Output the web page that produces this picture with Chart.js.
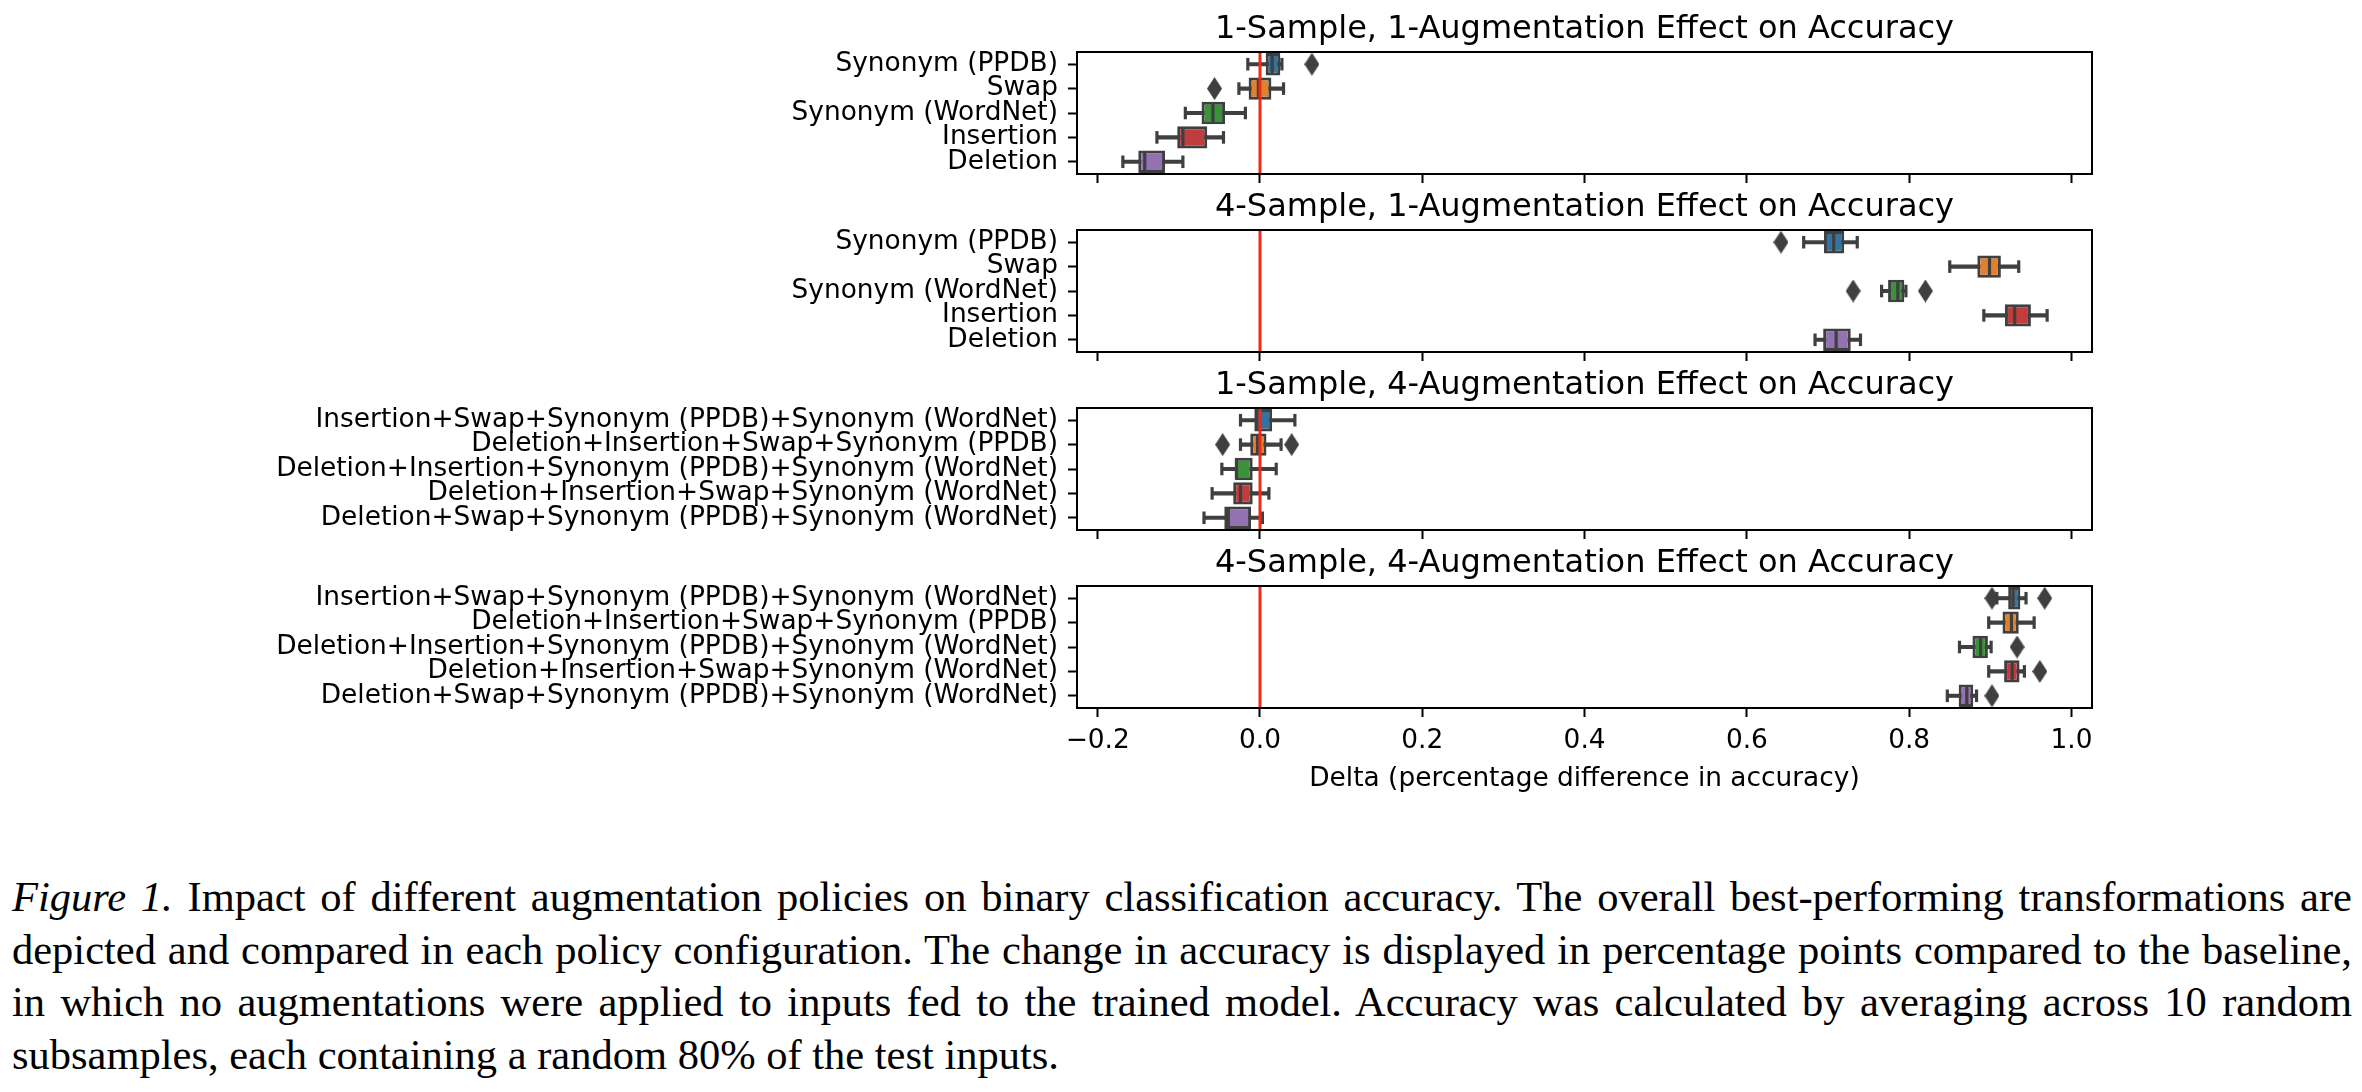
<!DOCTYPE html>
<html>
<head>
<meta charset="utf-8">
<script src="https://cdn.jsdelivr.net/npm/chart.js@4.4.1/dist/chart.umd.min.js"></script>
<style>
  html, body { margin: 0; padding: 0; background: #fff; }
  body { position: relative; width: 2362px; height: 1092px; overflow: hidden; }
  canvas { position: absolute; left: 0; }
  #caption {
    position: absolute; left: 12px; top: 871px; width: 2340px;
    font-family: "Liberation Serif", "Times New Roman", serif;
    font-size: 42.5px; line-height: 52.5px; color: #000;
  }
  #caption div { text-align: justify; text-align-last: justify; word-spacing: -3px; }
  #caption div.last { text-align-last: left; word-spacing: 0; }
</style>
</head>
<body>
<canvas id="p1" width="2362" height="183" style="top:0px"></canvas>
<canvas id="p2" width="2362" height="183" style="top:178px"></canvas>
<canvas id="p3" width="2362" height="183" style="top:356px"></canvas>
<canvas id="p4" width="2362" height="261" style="top:534px"></canvas>
<div id="caption">
  <div><i>Figure 1.</i> Impact of different augmentation policies on binary classification accuracy. The overall best-performing transformations are</div>
  <div>depicted and compared in each policy configuration. The change in accuracy is displayed in percentage points compared to the baseline,</div>
  <div>in which no augmentations were applied to inputs fed to the trained model. Accuracy was calculated by averaging across 10 random</div>
  <div class="last">subsamples, each containing a random 80% of the test inputs.</div>
</div>
<script>
// categories
const singleAugs = ["Synonym (PPDB)", "Swap", "Synonym (WordNet)", "Insertion", "Deletion"];
const comboAugs = [
  "Insertion+Swap+Synonym (PPDB)+Synonym (WordNet)",
  "Deletion+Insertion+Swap+Synonym (PPDB)",
  "Deletion+Insertion+Synonym (PPDB)+Synonym (WordNet)",
  "Deletion+Insertion+Swap+Synonym (WordNet)",
  "Deletion+Swap+Synonym (PPDB)+Synonym (WordNet)"
];
const panelTitles = [
  "1-Sample, 1-Augmentation Effect on Accuracy",
  "4-Sample, 1-Augmentation Effect on Accuracy",
  "1-Sample, 4-Augmentation Effect on Accuracy",
  "4-Sample, 4-Augmentation Effect on Accuracy"
];
const xTitle = "Delta (percentage difference in accuracy)";
const xTicks = [-0.2, 0, 0.2, 0.4, 0.6, 0.8, 1.0];
const xMin = -0.2255, xMax = 1.0253;
const baseline = 0;

// box stats per panel: whisker low, q1, median, q3, whisker high, outliers
const s1Low  = [-0.015, -0.026, -0.092, -0.127, -0.169];
const s1Q1   = [0.007, -0.014, -0.072, -0.102, -0.150];
const s1Med  = [0.015, -0.002, -0.058, -0.095, -0.142];
const s1Q3   = [0.025, 0.014, -0.043, -0.065, -0.117];
const s1High = [0.027, 0.029, -0.018, -0.045, -0.095];
const s1Out  = [[0.064], [-0.056], [], [], []];

const s2Low  = [0.670, 0.850, 0.766, 0.892, 0.684];
const s2Q1   = [0.695, 0.884, 0.774, 0.918, 0.694];
const s2Med  = [0.707, 0.899, 0.786, 0.930, 0.710];
const s2Q3   = [0.720, 0.913, 0.794, 0.950, 0.728];
const s2High = [0.736, 0.935, 0.796, 0.970, 0.740];
const s2Out  = [[0.642], [], [0.731, 0.820], [], []];

const s3Low  = [-0.024, -0.024, -0.047, -0.059, -0.069];
const s3Q1   = [-0.007, -0.012, -0.031, -0.033, -0.044];
const s3Med  = [-0.004, -0.003, -0.029, -0.024, -0.039];
const s3Q3   = [0.015, 0.008, -0.009, -0.009, -0.011];
const s3High = [0.043, 0.026, 0.020, 0.011, 0.003];
const s3Out  = [[], [-0.046, 0.039], [], [], []];

const s4Low  = [0.908, 0.898, 0.862, 0.898, 0.847];
const s4Q1   = [0.922, 0.915, 0.878, 0.917, 0.861];
const s4Med  = [0.928, 0.926, 0.888, 0.927, 0.871];
const s4Q3   = [0.937, 0.935, 0.897, 0.936, 0.879];
const s4High = [0.944, 0.954, 0.901, 0.942, 0.883];
const s4Out  = [[0.902, 0.967], [], [0.933], [0.961], [0.902]];

const boxColors = ["#3274a1", "#e1812c", "#3a923a", "#c03d3e", "#9372b2"];
const gray = "#3f3f3f";
const baseRed = "#ee2a1b";
const font = { family: "DejaVu Sans", size: 26.4 };

// thin diamond used for the fliers
const diamond = document.createElement("canvas");
diamond.width = 15; diamond.height = 23;
(function () {
  const c = diamond.getContext("2d");
  c.fillStyle = gray;
  c.beginPath();
  c.moveTo(7.5, 0); c.lineTo(15, 11.5); c.lineTo(7.5, 23); c.lineTo(0, 11.5);
  c.closePath(); c.fill();
})();

// caps, medians, zero line and frame
const boxExtras = {
  id: "boxExtras",
  afterDatasetsDraw(chart, args, opts) {
    const { ctx, chartArea, scales: { x } } = chart;
    const bars = chart.getDatasetMeta(0).data;
    const line = (x1, y1, x2, y2) => { ctx.beginPath(); ctx.moveTo(x1, y1); ctx.lineTo(x2, y2); ctx.stroke(); };
    ctx.save();
    ctx.strokeStyle = gray;
    ctx.lineWidth = 3.2;
    bars.forEach((bar, i) => {
      const h = bar.height / 2 - 1.5;
      const cap = bar.height * 0.28;
      [opts.low[i], opts.high[i]].forEach(v => {
        const px = x.getPixelForValue(v);
        line(px, bar.y - cap, px, bar.y + cap);
      });
      const m = x.getPixelForValue(opts.med[i]);
      line(m, bar.y - h, m, bar.y + h);
    });
    const bx = x.getPixelForValue(baseline);
    ctx.strokeStyle = baseRed;
    ctx.lineWidth = 3;
    line(bx, chartArea.top, bx, chartArea.bottom);
    ctx.strokeStyle = "#000";
    ctx.lineWidth = 2;
    ctx.strokeRect(chartArea.left, chartArea.top, chartArea.right - chartArea.left, chartArea.bottom - chartArea.top);
    ctx.restore();
  }
};

function drawPanel(id, title, labels, low, q1, med, q3, high, out, isLast) {
  const fliers = [];
  out.forEach((vals, i) => vals.forEach(v => fliers.push({ x: v, y: labels[i] })));

  new Chart(document.getElementById(id), {
    type: "bar",
    data: {
      labels: labels,
      datasets: [
        {
          data: labels.map((_, i) => [q1[i], q3[i]]),
          backgroundColor: boxColors,
          borderColor: gray,
          borderWidth: 3,
          borderSkipped: false,
          barPercentage: 0.92,
          categoryPercentage: 1,
          grouped: false
        },
        {
          data: labels.map((_, i) => [low[i], high[i]]),
          backgroundColor: gray,
          barThickness: 3.4,
          grouped: false
        },
        {
          type: "scatter",
          data: fliers,
          pointStyle: diamond,
          pointRadius: 8
        }
      ]
    },
    options: {
      indexAxis: "y",
      responsive: false,
      devicePixelRatio: 1,
      animation: false,
      layout: { padding: { left: 0, right: 270, top: 0, bottom: 0 } },
      plugins: {
        legend: { display: false },
        tooltip: { enabled: false },
        title: {
          display: true,
          text: title,
          fullSize: false,
          color: "#000",
          font: { family: "DejaVu Sans", size: 32, weight: "normal" },
          padding: { top: 10.5, bottom: 3.1 }
        },
        boxExtras: { low: low, med: med, high: high }
      },
      scales: {
        x: {
          type: "linear",
          min: xMin,
          max: xMax,
          afterBuildTicks: s => { s.ticks = xTicks.map(v => ({ value: v })); },
          afterFit: s => { s.height = isLast ? 87 : 9; s.paddingLeft = 0; s.paddingRight = 0; },
          grid: { display: true, drawOnChartArea: false, drawTicks: true, tickLength: 9, tickWidth: 2, tickColor: "#000" },
          border: { display: false },
          ticks: {
            display: isLast,
            padding: 8,
            color: "#000",
            font: font,
            maxRotation: 0,
            autoSkip: false,
            callback: v => v.toFixed(1).replace("-", "\u2212")
          },
          title: { display: isLast, text: xTitle, color: "#000", font: font, padding: { top: 0, bottom: 0 } }
        },
        y: {
          type: "category",
          offset: true,
          afterFit: s => { s.width = 1077; s.paddingTop = 0; s.paddingBottom = 0; },
          grid: { display: true, offset: false, drawOnChartArea: false, drawTicks: true, tickLength: 9, tickWidth: 2, tickColor: "#000" },
          border: { display: false },
          ticks: { color: "#000", font: font, padding: 10, autoSkip: false }
        }
      }
    },
    plugins: [boxExtras]
  });
}

drawPanel("p1", panelTitles[0], singleAugs, s1Low, s1Q1, s1Med, s1Q3, s1High, s1Out, false);
drawPanel("p2", panelTitles[1], singleAugs, s2Low, s2Q1, s2Med, s2Q3, s2High, s2Out, false);
drawPanel("p3", panelTitles[2], comboAugs, s3Low, s3Q1, s3Med, s3Q3, s3High, s3Out, false);
drawPanel("p4", panelTitles[3], comboAugs, s4Low, s4Q1, s4Med, s4Q3, s4High, s4Out, true);
</script>
</body>
</html>
